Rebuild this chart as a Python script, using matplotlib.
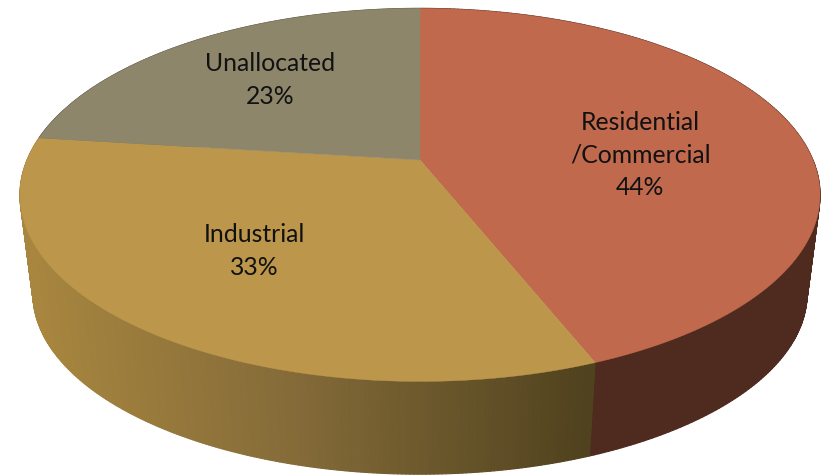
import numpy as np
import matplotlib
matplotlib.use("Agg")
import matplotlib.pyplot as plt
from matplotlib.collections import PolyCollection
from matplotlib.colors import to_rgb

categories = ["Residential\n/Commercial", "Industrial", "Unallocated"]
shares = [44, 33, 23]
top_colors = ["#C0694D", "#BC964B", "#8D866B"]
label_pos = [(640, 155), (254, 251), (270, 80)]

# perspective of the disc, in pixels
cx, cy = 420, 160
half_w, half_h = 393, 180
tilt = 0.187
# lower rim is a little smaller and further down
rim_scale = 0.9675
rim_y = 260


def project(theta, scale=1.0, y0=cy):
    u = np.sin(theta)
    v = np.cos(theta)
    d = 1 + tilt * v
    return cx + scale * half_w * u / d, y0 - scale * half_h * v / d


def side_color(i, x):
    if i == 0:
        return to_rgb("#4E2A1F")
    if i == 1:
        stops = [to_rgb("#A8863F"), to_rgb("#836A38"), to_rgb("#50421E")]
        return tuple(np.interp(x, [30, 300, 590], [s[k] for s in stops]) for k in range(3))
    return to_rgb("#5C5845")


fig = plt.figure(figsize=(8.25, 4.75), dpi=100)
ax = fig.add_axes([0, 0, 1, 1])
ax.set_xlim(0, 825)
ax.set_ylim(475, 0)
ax.axis("off")

edges = np.cumsum([0] + shares) / sum(shares) * 2 * np.pi

# side wall first, as thin quads so the shading can change along the rim
for i in range(len(shares)):
    t = np.linspace(edges[i], edges[i + 1], 240)
    x1, y1 = project(t)
    x2, y2 = project(t, rim_scale, rim_y)
    quads = []
    cols = []
    for j in range(len(t) - 1):
        quads.append([(x1[j], y1[j]), (x1[j + 1], y1[j + 1]), (x2[j + 1], y2[j + 1]), (x2[j], y2[j])])
        cols.append(side_color(i, x1[j]))
    ax.add_collection(PolyCollection(quads, facecolors=cols, edgecolors=cols, linewidths=0.8))

# top face
for i in range(len(shares)):
    t = np.linspace(edges[i], edges[i + 1], 300)
    x, y = project(t)
    ax.fill(np.r_[cx, x], np.r_[cy, y], color=top_colors[i], lw=0.3)

for name, val, (lx, ly) in zip(categories, shares, label_pos):
    ax.text(lx, ly, f"{name}\n{val}%", ha="center", va="center", family="Lato",
            fontsize=17.8, color="#111111", linespacing=1.5)

fig.savefig("out.png", dpi=100, facecolor="white")
